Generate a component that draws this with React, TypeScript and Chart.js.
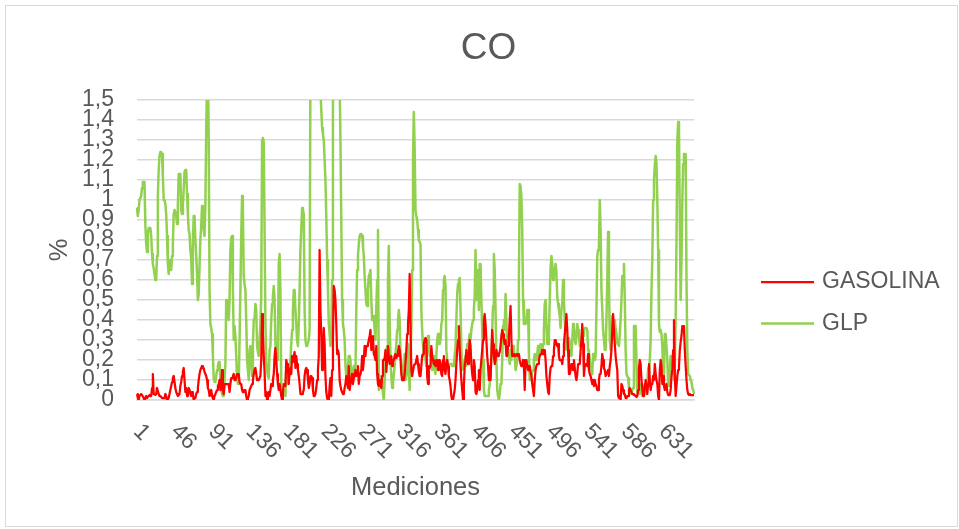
import React, { useEffect, useRef } from "react";
import { Chart, registerables } from "chart.js";

Chart.register(...registerables);

const FONT = "'Liberation Sans', Arial, sans-serif";
const TEXT = "#595959";
const GRID = "#d9d9d9";

const chartTitle = "CO";
const xAxisTitle = "Mediciones";
const yAxisTitle = "%";
const seriesNames = ["GASOLINA", "GLP"];
const seriesColors = ["#ff0000", "#92d050"];

const yTickLabels = ["0", "0,1", "0,2", "0,3", "0,4", "0,5", "0,6", "0,7", "0,8", "0,9", "1", "1,1", "1,2", "1,3", "1,4", "1,5"];
const xTickLabels = ["1", "46", "91", "136", "181", "226", "271", "316", "361", "406", "451", "496", "541", "586", "631"];

const gasolina = [
  0.03, 0.01, 0.0, 0.02, 0.025, 0.03, 0.025, 0.025, 0.01, 0.0,
  0.01, 0.02, 0.01, 0.01, 0.02, 0.025, 0.02, 0.02, 0.06, 0.13,
  0.03, 0.03, 0.025, 0.03, 0.06, 0.06, 0.03, 0.02, 0.02, 0.015,
  0.01, 0.01, 0.01, 0.01, 0.03, 0.02, 0.0, 0.01, 0.01, 0.03,
  0.05, 0.07, 0.09, 0.11, 0.12, 0.09, 0.06, 0.04, 0.03, 0.02,
  0.025, 0.03, 0.07, 0.09, 0.12, 0.14, 0.16, 0.1, 0.04, 0.06,
  0.02, 0.03, 0.06, 0.05, 0.03, 0.02, 0.04, 0.03, 0.0, 0.01,
  0.01, 0.03, 0.04, 0.06, 0.1, 0.13, 0.15, 0.16, 0.17, 0.16,
  0.16, 0.14, 0.13, 0.12, 0.1, 0.06, 0.05, 0.02, 0.03, 0.05,
  0.02, 0.01, 0.0, 0.02, 0.03, 0.04, 0.05, 0.07, 0.08, 0.1,
  0.05, 0.08, 0.15, 0.05, 0.03, 0.08, 0.08, 0.08, 0.08, 0.08,
  0.08, 0.04, 0.08, 0.11, 0.11, 0.12, 0.13, 0.1, 0.1, 0.11,
  0.13, 0.13, 0.13, 0.09, 0.08, 0.08, 0.05, 0.04, 0.04, 0.05,
  0.05, 0.02, 0.0, 0.01, 0.02, 0.05, 0.06, 0.07, 0.08, 0.1,
  0.13, 0.15, 0.16, 0.13, 0.1, 0.1, 0.1, 0.11, 0.12, 0.2,
  0.43, 0.33, 0.22, 0.14, 0.02, 0.04, 0.0, 0.03, 0.04, 0.02,
  0.05, 0.08, 0.07, 0.1, 0.13, 0.22, 0.26, 0.2, 0.13, 0.08,
  0.05, 0.08, 0.05, 0.02, 0.0, 0.04, 0.08, 0.08, 0.07, 0.2,
  0.18, 0.16, 0.08, 0.15, 0.16, 0.13, 0.22, 0.19, 0.22, 0.24,
  0.16, 0.22, 0.18, 0.15, 0.12, 0.08, 0.03, 0.03, 0.03, 0.04,
  0.05, 0.12, 0.15, 0.16, 0.15, 0.1, 0.06, 0.08,
  0.12, 0.12, 0.11, 0.05, 0.02, 0.02, 0.03, 0.06, 0.1, 0.15,
  0.22, 0.75, 0.45, 0.33, 0.15, 0.22, 0.36, 0.28, 0.12, 0.04,
  0.01, 0.0, 0.0, 0.07, 0.11, 0.02, 0.15, 0.3, 0.57, 0.55,
  0.5, 0.38, 0.23, 0.25, 0.23, 0.1, 0.07, 0.05, 0.04, 0.03,
  0.03, 0.06, 0.08, 0.12, 0.1, 0.06, 0.17, 0.05, 0.08, 0.1,
  0.13, 0.08, 0.11, 0.12, 0.15, 0.12, 0.14, 0.17, 0.08, 0.12,
  0.13, 0.15, 0.22, 0.15, 0.2, 0.27, 0.22, 0.27, 0.27, 0.28,
  0.3, 0.32, 0.35, 0.25, 0.28, 0.32, 0.23, 0.22, 0.2, 0.27,
  0.13, 0.08, 0.07, 0.1, 0.08, 0.06, 0.12, 0.2, 0.2, 0.21,
  0.25, 0.14, 0.2, 0.27, 0.22, 0.18, 0.2, 0.22, 0.17, 0.2,
  0.2, 0.22, 0.23, 0.21, 0.22, 0.24, 0.27, 0.25,
  0.21, 0.13, 0.1, 0.1, 0.1, 0.13, 0.18, 0.25, 0.33, 0.38,
  0.45, 0.63, 0.38, 0.15, 0.12, 0.12, 0.17, 0.18, 0.18, 0.2,
  0.22, 0.18, 0.14, 0.12, 0.12, 0.17, 0.22, 0.23, 0.28, 0.3,
  0.31, 0.3, 0.12, 0.08, 0.17, 0.16, 0.17, 0.27, 0.22, 0.2,
  0.18, 0.18, 0.17, 0.2, 0.2, 0.15, 0.2, 0.2, 0.18, 0.13,
  0.12, 0.2, 0.22, 0.15, 0.13, 0.18, 0.2, 0.17, 0.12, 0.1,
  0.07, 0.02, 0.0, 0.0, 0.0, 0.05, 0.1, 0.18, 0.25, 0.3,
  0.37, 0.25, 0.17, 0.1, 0.05, 0.0, 0.07, 0.17, 0.2, 0.25,
  0.2, 0.18, 0.23, 0.3, 0.27, 0.18, 0.13, 0.1, 0.2, 0.17,
  0.04, 0.03, 0.05, 0.1, 0.15, 0.05, 0.15, 0.2, 0.25, 0.3,
  0.4, 0.43, 0.38, 0.3, 0.22, 0.17, 0.1, 0.15,
  0.1, 0.23, 0.35, 0.28, 0.22, 0.18, 0.2, 0.25, 0.23, 0.22,
  0.23, 0.24, 0.27, 0.32, 0.35, 0.33, 0.3, 0.28, 0.3, 0.22,
  0.22, 0.27, 0.32, 0.4, 0.47, 0.3, 0.22, 0.23, 0.22, 0.22,
  0.22, 0.23, 0.23, 0.22, 0.23, 0.2, 0.18, 0.17, 0.17, 0.2,
  0.17, 0.05, 0.2, 0.2, 0.17, 0.15, 0.17, 0.17, 0.14, 0.12,
  0.08, 0.05, 0.02, 0.1, 0.15, 0.17, 0.18, 0.18, 0.2, 0.22,
  0.23, 0.23, 0.25, 0.23, 0.25, 0.25, 0.2, 0.12, 0.08, 0.04,
  0.03, 0.12, 0.16, 0.17, 0.17, 0.22, 0.25, 0.3, 0.3, 0.28,
  0.27, 0.28, 0.22, 0.2, 0.2, 0.2, 0.18, 0.22, 0.28, 0.33,
  0.38, 0.43, 0.35, 0.25, 0.13, 0.13, 0.15, 0.18, 0.18, 0.15,
  0.2, 0.16, 0.12, 0.1, 0.13, 0.18, 0.18, 0.18,
  0.25, 0.3, 0.38, 0.28, 0.12, 0.17, 0.18, 0.18, 0.17, 0.23,
  0.15, 0.13, 0.12, 0.1, 0.08, 0.1, 0.07, 0.1, 0.08, 0.07,
  0.05, 0.05, 0.1, 0.13, 0.13, 0.17, 0.23, 0.2, 0.16, 0.15,
  0.12, 0.13, 0.14, 0.15, 0.12, 0.17, 0.2, 0.25, 0.35, 0.43,
  0.43, 0.28, 0.22, 0.18, 0.15, 0.02, 0.01, 0.02, 0.0, 0.08,
  0.07, 0.05, 0.03, 0.03, 0.01, 0.01, 0.02, 0.02, 0.05, 0.06,
  0.05, 0.04, 0.03, 0.03, 0.025, 0.025, 0.02, 0.015, 0.02, 0.05,
  0.16, 0.2, 0.18, 0.1, 0.06, 0.02, 0.03, 0.06, 0.1, 0.08,
  0.03, 0.08, 0.18, 0.1, 0.05, 0.08, 0.08, 0.12, 0.1, 0.18,
  0.13, 0.1, 0.08, 0.02, 0.0, 0.15, 0.2, 0.17, 0.08, 0.12,
  0.07, 0.05, 0.06, 0.08, 0.04, 0.025, 0.03, 0.025, 0.05, 0.12,
  0.15, 0.25, 0.4, 0.12, 0.02, 0.07, 0.12, 0.15, 0.17, 0.25,
  0.29, 0.32, 0.37, 0.37, 0.36, 0.25, 0.17, 0.1, 0.05, 0.03,
  0.025, 0.03, 0.025, 0.025, 0.025, 0.025, 0.025,
];

const glp = [
  0.96, 0.92, 0.95, 1.0, 1.01, 1.02, 1.06, 1.09, 1.09, 1.09,
  0.88, 0.78, 0.74, 0.83, 0.86, 0.86, 0.86, 0.82, 0.73, 0.68,
  0.66, 0.63, 0.6, 0.6, 0.72, 1.02, 1.15, 1.22, 1.24, 1.24,
  1.23, 1.12, 1.0, 1.0, 0.98, 0.93, 0.82, 0.68, 0.63, 0.7,
  0.67, 0.65, 0.72, 0.78, 0.93, 0.95, 0.94, 0.92, 0.88, 0.97,
  1.13, 1.13, 1.13, 0.95, 0.93, 0.97, 1.05, 1.14, 1.15, 1.15,
  1.03, 0.93, 0.85, 0.83, 0.75, 0.71, 0.58, 0.79, 0.92, 0.92,
  0.8, 0.72, 0.63, 0.5, 0.53, 0.67, 0.8, 0.87, 0.97, 0.95,
  0.85, 0.82, 0.97, 1.35, 1.6, 1.7, 1.3, 0.55, 0.38, 0.36,
  0.33, 0.22, 0.11, 0.09, 0.09, 0.12, 0.15, 0.17, 0.19, 0.19,
  0.1, 0.05, 0.03, 0.02, 0.02, 0.1, 0.18, 0.5, 0.5, 0.5,
  0.4, 0.5, 0.75, 0.81, 0.82, 0.55, 0.3, 0.37, 0.32, 0.22,
  0.1, 0.08, 0.08, 0.3, 0.55, 0.82, 1.02, 0.95, 0.62, 0.58,
  0.55, 0.4, 0.2, 0.15, 0.1, 0.25, 0.27, 0.2, 0.12, 0.28,
  0.4, 0.41, 0.48, 0.45, 0.27, 0.24, 0.22, 0.3, 0.38, 0.52,
  1.3, 1.31, 1.29, 0.85, 0.38, 0.2, 0.15, 0.12, 0.11, 0.25,
  0.27, 0.4, 0.48, 0.52, 0.57, 0.5, 0.28, 0.22, 0.2, 0.28,
  0.68, 0.73, 0.55, 0.08, 0.02, 0.04, 0.05, 0.03, 0.02, 0.15,
  0.1, 0.08, 0.18, 0.12, 0.2, 0.28, 0.35, 0.45, 0.55, 0.55,
  0.45, 0.38, 0.3, 0.27, 0.38, 0.55, 0.75, 0.85, 0.96, 0.95,
  0.93, 0.45, 0.3, 0.27, 0.27, 0.27, 0.3, 0.35,
  1.7, 1.75, 1.8, 1.8, 1.8, 1.75, 1.75, 1.7, 1.7, 1.7,
  1.65, 1.6, 1.55, 1.45, 1.36, 1.33, 1.3, 1.2, 1.1, 0.92,
  0.7, 0.55, 0.38, 0.33, 0.27, 0.3, 0.6, 1.5, 1.7, 1.75,
  1.8, 1.8, 1.8, 1.75, 1.7, 1.6, 1.3, 0.9, 0.5, 0.38,
  0.35, 0.3, 0.17, 0.12, 0.12, 0.17, 0.22, 0.22, 0.2, 0.1,
  0.12, 0.15, 0.17, 0.15, 0.14, 0.45, 0.65, 0.72, 0.78, 0.82,
  0.83, 0.83, 0.82, 0.77, 0.72, 0.62, 0.55, 0.48, 0.47, 0.55,
  0.62, 0.63, 0.65, 0.5, 0.4, 0.41, 0.42, 0.35, 0.3, 0.46,
  0.6, 0.85, 0.05, 0.08, 0.1, 0.12, 0.08, 0.03, 0.0, 0.1,
  0.17, 0.22, 0.27, 0.6, 0.77, 0.4, 0.2, 0.12, 0.06, 0.08,
  0.13, 0.17, 0.23, 0.28, 0.35, 0.4, 0.45, 0.4,
  0.22, 0.19, 0.15, 0.1, 0.12, 0.23, 0.1, 0.12, 0.15, 0.28,
  0.15, 0.05, 0.2, 0.35, 0.65, 1.2, 1.44, 1.25, 0.95, 0.92,
  0.9, 0.85, 0.8, 0.79, 0.78, 0.45, 0.35, 0.27, 0.22, 0.27,
  0.2, 0.17, 0.28, 0.32, 0.27, 0.22, 0.25, 0.18, 0.15, 0.22,
  0.21, 0.15, 0.13, 0.22, 0.3, 0.33, 0.28, 0.28, 0.3, 0.38,
  0.4, 0.55, 0.6, 0.62, 0.57, 0.25, 0.2, 0.17, 0.17, 0.18,
  0.18, 0.18, 0.17, 0.17, 0.18, 0.22, 0.27, 0.4, 0.53, 0.58,
  0.6, 0.61, 0.45, 0.25, 0.15, 0.16, 0.18, 0.2, 0.22, 0.17,
  0.28, 0.25, 0.3, 0.33, 0.3, 0.35, 0.38, 0.4, 0.45, 0.52,
  0.75, 0.5, 0.58, 0.65, 0.45, 0.68, 0.68, 0.5, 0.35, 0.2,
  0.05, 0.02, 0.02, 0.02, 0.02, 0.02, 0.05, 0.08,
  0.15, 0.2, 0.35, 0.47, 0.73, 0.65, 0.45, 0.2, 0.05, 0.02,
  0.0, 0.03, 0.08, 0.08, 0.2, 0.37, 0.4, 0.35, 0.53, 0.4,
  0.25, 0.23, 0.22, 0.18, 0.25, 0.2, 0.25, 0.27, 0.25, 0.22,
  0.15, 0.17, 0.2, 0.3, 0.6, 1.08, 1.07, 1.02, 0.85, 0.5,
  0.38, 0.38, 0.38, 0.4, 0.45, 0.45, 0.23, 0.1, 0.1, 0.12,
  0.14, 0.15, 0.2, 0.23, 0.2, 0.2, 0.23, 0.27, 0.22, 0.25,
  0.28, 0.27, 0.23, 0.28, 0.35, 0.48, 0.5, 0.38, 0.28, 0.28,
  0.33, 0.5, 0.66, 0.72, 0.68, 0.6, 0.62, 0.65, 0.68, 0.64,
  0.52, 0.48, 0.45, 0.42, 0.36, 0.45, 0.48, 0.6, 0.5, 0.4,
  0.3, 0.25, 0.25, 0.3, 0.31, 0.29, 0.25, 0.22, 0.3, 0.38,
  0.36, 0.3, 0.28, 0.32, 0.38, 0.35, 0.32, 0.27,
  0.29, 0.3, 0.34, 0.32, 0.35, 0.36, 0.36, 0.36, 0.35, 0.25,
  0.24, 0.2, 0.16, 0.15, 0.13, 0.23, 0.22, 0.2, 0.22, 0.45,
  0.72, 0.75, 0.77, 1.0, 0.85, 0.55, 0.45, 0.35, 0.35, 0.25,
  0.25, 0.4, 0.6, 0.84, 0.6, 0.3, 0.25, 0.35, 0.42, 0.37,
  0.38, 0.4, 0.36, 0.33, 0.28, 0.28, 0.27, 0.33, 0.4, 0.5,
  0.62, 0.62, 0.68, 0.5, 0.25, 0.13, 0.12, 0.11, 0.06, 0.04,
  0.03, 0.04, 0.05, 0.06, 0.37, 0.37, 0.37, 0.2, 0.04, 0.03,
  0.05, 0.08, 0.06, 0.03, 0.02, 0.07, 0.02, 0.08, 0.06, 0.03,
  0.07, 0.16, 0.12, 0.2, 0.3, 0.55, 0.7, 1.0, 1.1, 1.17,
  1.22, 1.18, 1.0, 0.75, 0.38, 0.34, 0.35, 0.33, 0.27, 0.12,
  0.13, 0.33, 0.33, 0.27, 0.2, 0.08, 0.07, 0.15, 0.22, 0.22,
  0.2, 0.15, 0.1, 0.18, 0.4, 0.8, 1.3, 1.39, 1.35, 0.88,
  0.5, 0.7, 1.0, 1.18, 1.23, 1.23, 1.23, 0.6, 0.25, 0.13,
  0.13, 0.12, 0.1, 0.09, 0.06, 0.05, 0.03,
];

const mediciones = gasolina.map((_, i) => String(i + 1));

const decorPlugin = {
  id: "decor",
  afterDraw(chart: any) {
    const { ctx } = chart;
    const xScale = chart.scales.x;
    ctx.save();
    // outer border
    ctx.strokeStyle = GRID;
    ctx.lineWidth = 1;
    ctx.strokeRect(5.5, 5.5, 952, 521);

    // title
    ctx.fillStyle = TEXT;
    ctx.font = `37px ${FONT}`;
    ctx.textAlign = "center";
    ctx.textBaseline = "middle";
    ctx.fillText(chartTitle, 488.5, 48.5);

    // x tick labels rotated downward
    ctx.font = `23px ${FONT}`;
    ctx.textAlign = "left";
    ctx.textBaseline = "middle";
    xTickLabels.forEach((lbl) => {
      const idx = mediciones.indexOf(lbl);
      const px = xScale.getPixelForValue(idx);
      ctx.save();
      ctx.translate(px, 428);
      ctx.rotate(Math.PI / 4);
      ctx.fillText(lbl, 0, 0);
      ctx.restore();
    });

    // legend
    const legendY = [282, 323.5];
    chart.data.datasets.forEach((ds: any, i: number) => {
      const y = legendY[i];
      ctx.strokeStyle = ds.borderColor;
      ctx.lineWidth = ds.borderWidth;
      ctx.beginPath();
      ctx.moveTo(761, y);
      ctx.lineTo(814, y);
      ctx.stroke();
      ctx.fillStyle = TEXT;
      ctx.font = `23px ${FONT}`;
      ctx.textAlign = "left";
      ctx.textBaseline = "middle";
      ctx.fillText(ds.label, 822, y);
    });
    ctx.restore();
  },
};

export default function App() {
  const canvasRef = useRef<HTMLCanvasElement | null>(null);

  useEffect(() => {
    document.body.style.margin = "0";
    const canvas = canvasRef.current;
    if (!canvas) return;
    const chart = new Chart(canvas, {
      type: "line",
      data: {
        labels: mediciones,
        datasets: [
          {
            label: seriesNames[0],
            data: gasolina,
            borderColor: seriesColors[0],
            backgroundColor: seriesColors[0],
            borderWidth: 2.25,
            pointRadius: 0,
            tension: 0,
            borderJoinStyle: "round",
          },
          {
            label: seriesNames[1],
            data: glp,
            borderColor: seriesColors[1],
            backgroundColor: seriesColors[1],
            borderWidth: 2.5,
            pointRadius: 0,
            tension: 0,
            borderJoinStyle: "round",
          },
        ],
      },
      options: {
        responsive: false,
        animation: false,
        devicePixelRatio: 1,
        events: [],
        layout: { padding: { left: 0, top: 100, right: 265, bottom: 0 } },
        plugins: {
          legend: { display: false },
          title: { display: false },
          tooltip: { enabled: false },
        },
        scales: {
          x: {
            type: "category",
            offset: false,
            grid: { display: false },
            border: { display: true, color: GRID, width: 1.5 },
            ticks: { display: false },
            title: {
              display: true,
              text: xAxisTitle,
              color: TEXT,
              font: { family: FONT, size: 25.5 },
              padding: { top: 0, bottom: 25.7 },
            },
            afterFit: (s: any) => {
              s.height = 129;
            },
          },
          y: {
            min: 0,
            max: 1.5,
            ticks: {
              stepSize: 0.1,
              autoSkip: false,
              color: TEXT,
              font: { family: FONT, size: 23 },
              padding: 23,
              callback: (_v: any, i: number) => yTickLabels[i],
            },
            grid: { color: GRID, lineWidth: 1.5, drawTicks: false },
            border: { display: false },
            title: {
              display: true,
              text: yAxisTitle,
              color: TEXT,
              font: { family: FONT, size: 25.5 },
              padding: { top: 44.7, bottom: 0 },
            },
            afterFit: (s: any) => {
              s.width = 137;
            },
          },
        },
      },
      plugins: [decorPlugin],
    });
    return () => chart.destroy();
  }, []);

  return <canvas ref={canvasRef} width={959} height={529} style={{ display: "block" }} />;
}
